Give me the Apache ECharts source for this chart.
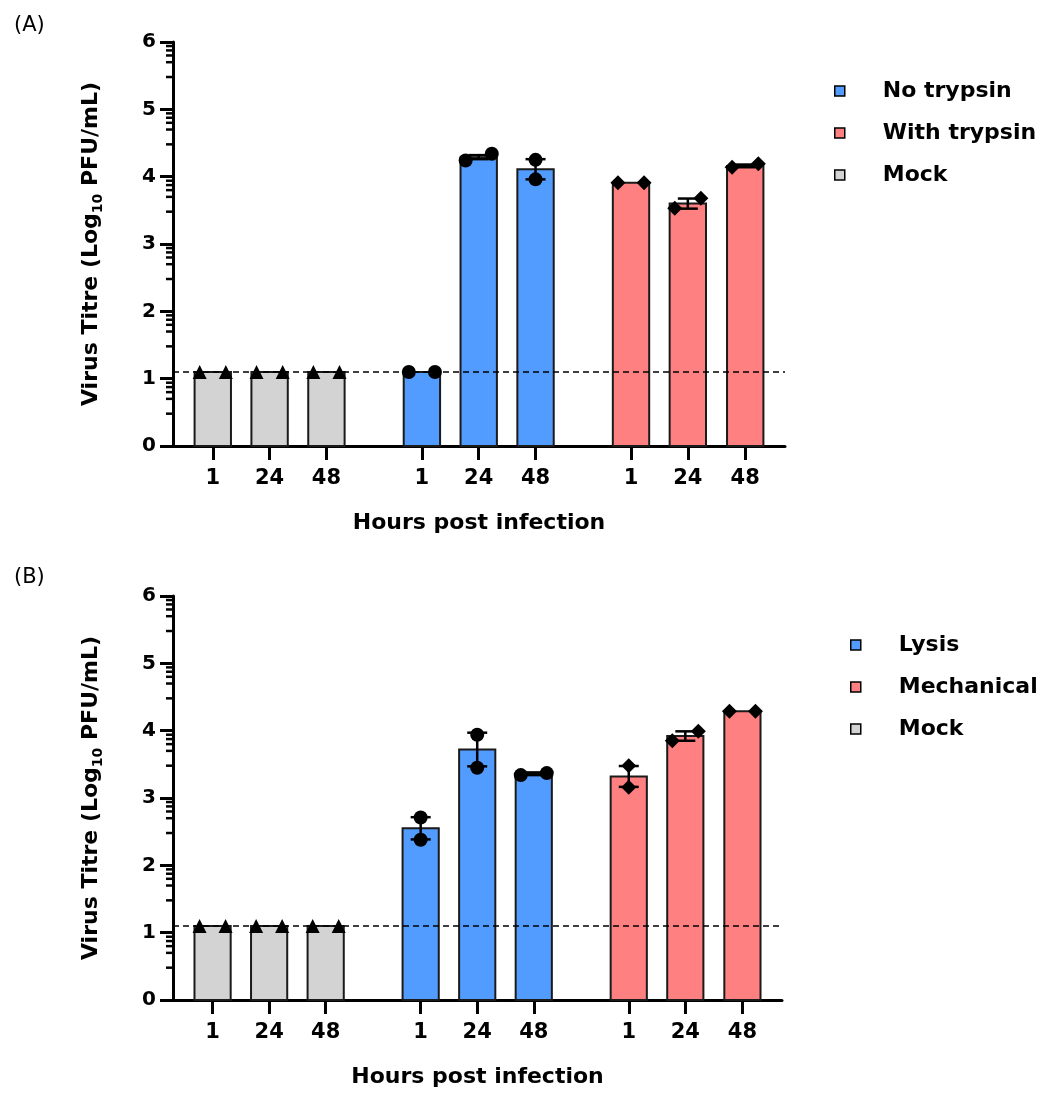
<!DOCTYPE html>
<html>
<head>
<meta charset="utf-8">
<script src="https://cdn.jsdelivr.net/npm/echarts@6/dist/echarts.min.js"></script>
<style>
  html, body { margin: 0; background: #fff; }
  #chart { width: 1051px; height: 1094px; }
</style>
</head>
<body>
<div id="chart"></div>
<script>
// ── Data ──────────────────────────────────────────────────────────────────────
const hourLabels = ['1', '24', '48', '1', '24', '48', '1', '24', '48'];
const LOD = 1.1; // limit of detection (dashed line)

// Panel A
const mockA_mean   = [1.1, 1.1, 1.1];
const mockA_err    = [0, 0, 0];
const mockA_pts    = [[1.1, 1.1], [1.1, 1.1], [1.1, 1.1]];
const noTryp_mean  = [1.1, 4.29, 4.11];
const noTryp_err   = [0, 0.03, 0.15];
const noTryp_pts   = [[1.1, 1.1], [4.24, 4.34], [4.25, 3.96]];
const withTryp_mean = [3.91, 3.6, 4.16];
const withTryp_err  = [0, 0.075, 0.02];
const withTryp_pts  = [[3.91, 3.91], [3.53, 3.68], [4.14, 4.19]];

// Panel B
const mockB_mean   = [1.1, 1.1, 1.1];
const mockB_err    = [0, 0, 0];
const mockB_pts    = [[1.1, 1.1], [1.1, 1.1], [1.1, 1.1]];
const lysis_mean   = [2.55, 3.72, 3.36];
const lysis_err    = [0.165, 0.25, 0.02];
const lysis_pts    = [[2.71, 2.38], [3.94, 3.45], [3.34, 3.37]];
const mech_mean    = [3.32, 3.92, 4.29];
const mech_err     = [0.155, 0.07, 0];
const mech_pts     = [[3.48, 3.16], [3.85, 3.99], [4.29, 4.29]];

// ── Layout / style ────────────────────────────────────────────────────────────
const FONT = 'DejaVu Sans';
const slotPos = [0, 1, 2, 3.68, 4.68, 5.68, 7.36, 8.36, 9.37];
const X_MIN = -0.70, X_MAX = 10.07;
const BAR_W = 0.64;
const JIT = 0.23;
// horizontal spread of the two replicate points, per bar (-1 left, 0 centre, 1 right)
const spreadA = { mock: [[-1, 1], [-1, 1], [-1, 1]], blue: [[-1, 1], [-1, 1], [0, 0]], red: [[-1, 1], [-1, 1], [-1, 1]] };
const spreadB = { mock: [[-1, 1], [-1, 1], [-1, 1]], blue: [[0, 0], [0, 0], [-1, 1]], red: [[0, 0], [-1, 1], [-1, 1]] };
const minorOffsets = [0.48, 0.70, 0.80, 0.875, 0.94];

const C = { blue: '#539CFF', red: '#FF8080', gray: '#D3D3D3' };

// ── Builders ──────────────────────────────────────────────────────────────────
function barSeries(name, gi, color, slots, means, errs) {
  return {
    name, type: 'custom', xAxisIndex: gi, yAxisIndex: gi, z: 2, silent: true,
    itemStyle: { color, borderColor: '#000', borderWidth: 1.5 },
    data: slots.map((s, i) => [slotPos[s], means[i], errs[i]]),
    encode: { x: 0, y: 1 },
    renderItem: (params, api) => {
      const x = api.value(0), v = api.value(1), e = api.value(2);
      const top = api.coord([x, v]);
      const base = api.coord([x, 0]);
      const w = api.size([BAR_W, 0])[0];
      const hi = api.coord([x, v + e]);
      const lo = api.coord([x, v - e]);
      const children = [{
        type: 'rect',
        shape: { x: top[0] - w / 2, y: top[1], width: w, height: base[1] - top[1] },
        style: { fill: color, stroke: '#1a1a1a', lineWidth: 2 },
      }];
      if (e > 0) {
        const cap = 10;
        const ls = { stroke: '#000', lineWidth: 2.5 };
        children.push(
          { type: 'line', shape: { x1: hi[0], y1: hi[1], x2: lo[0], y2: lo[1] }, style: ls },
          { type: 'line', shape: { x1: hi[0] - cap, y1: hi[1], x2: hi[0] + cap, y2: hi[1] }, style: ls },
          { type: 'line', shape: { x1: lo[0] - cap, y1: lo[1], x2: lo[0] + cap, y2: lo[1] }, style: ls },
        );
      }
      return { type: 'group', children };
    },
  };
}

function pointSeries(name, gi, symbol, size, slots, pts, spread, withLod) {
  const data = [];
  slots.forEach((s, i) => {
    pts[i].forEach((v, j) => data.push([slotPos[s] + spread[i][j] * JIT, v]));
  });
  const ser = {
    name, type: 'scatter', xAxisIndex: gi, yAxisIndex: gi, z: 5, silent: true,
    symbol, symbolSize: size,
    itemStyle: { color: '#000', opacity: 1 },
    data,
  };
  if (withLod) {
    ser.markLine = {
      silent: true, symbol: 'none', animation: false,
      label: { show: false },
      lineStyle: { color: '#000', width: 1.6, type: [6, 4] },
      data: [{ yAxis: LOD }],
    };
  }
  return ser;
}

function minorTickSeries(gi) {
  const vals = [];
  for (let n = 0; n < 6; n++) minorOffsets.forEach(o => vals.push([X_MIN, n + o]));
  return {
    name: 'minor' + gi, type: 'custom', xAxisIndex: gi, yAxisIndex: gi, z: 6, silent: true,
    clip: false,
    data: vals,
    renderItem: (params, api) => {
      const p = api.coord([api.value(0), api.value(1)]);
      return { type: 'line', shape: { x1: p[0] - 7, y1: p[1], x2: p[0], y2: p[1] }, style: { stroke: '#000', lineWidth: 2.5 } };
    },
  };
}

const boldText = (size) => ({ fontFamily: FONT, fontWeight: 'bold', fontSize: size, color: '#000' });

function xAxisCfg(gi) {
  return {
    type: 'value', gridIndex: gi, min: X_MIN, max: X_MAX,
    axisLine: { show: true, onZero: false, lineStyle: { color: '#000', width: 3 } },
    axisTick: { show: true, customValues: slotPos, length: 14, lineStyle: { color: '#000', width: 3 } },
    axisLabel: {
      show: true, customValues: slotPos, margin: 22, ...boldText(21),
      formatter: v => {
        const i = slotPos.findIndex(p => Math.abs(p - v) < 1e-6);
        return i >= 0 ? hourLabels[i] : '';
      },
    },
    splitLine: { show: false },
    name: 'Hours post infection', nameLocation: 'middle', nameGap: 66,
    nameTextStyle: boldText(22),
  };
}

function yAxisCfg(gi) {
  return {
    type: 'value', gridIndex: gi, min: 0, max: 6, interval: 1,
    axisLine: { show: true, onZero: false, lineStyle: { color: '#000', width: 3 } },
    axisTick: { show: true, length: 13, lineStyle: { color: '#000', width: 3 } },
    axisLabel: { show: true, margin: 17, ...boldText(20) },
    splitLine: { show: false },
    name: '{b|Virus Titre (Log}{s|10}{b| PFU/mL)}',
    nameLocation: 'middle', nameGap: 68, nameRotate: 90,
    nameTextStyle: {
      rich: {
        b: { ...boldText(22), lineHeight: 28, verticalAlign: 'middle' },
        s: { ...boldText(14), lineHeight: 28, verticalAlign: 'bottom' },
      },
    },
  };
}

function legendCfg(names, left, top) {
  return {
    data: names, orient: 'vertical', left, top,
    icon: 'rect', itemWidth: 10, itemHeight: 10, itemGap: 20,
    selectedMode: false,
    itemStyle: { borderColor: '#000', borderWidth: 1.5 },
    textStyle: { ...boldText(22), padding: [0, 0, 0, 33] },
  };
}

// ── Chart ─────────────────────────────────────────────────────────────────────
const chart = echarts.init(document.getElementById('chart'), null, { renderer: 'canvas' });

chart.setOption({
  backgroundColor: '#fff',
  animation: false,
  title: [
    { text: '(A)', left: 9, top: 10, textStyle: { fontFamily: FONT, fontWeight: 'normal', fontSize: 21, color: '#000' } },
    { text: '(B)', left: 9, top: 562, textStyle: { fontFamily: FONT, fontWeight: 'normal', fontSize: 21, color: '#000' } },
  ],
  grid: [
    { left: 173, top: 42, width: 612, height: 404, outerBoundsMode: 'none' },
    { left: 173, top: 596, width: 609, height: 404, outerBoundsMode: 'none' },
  ],
  xAxis: [xAxisCfg(0), xAxisCfg(1)],
  yAxis: [yAxisCfg(0), yAxisCfg(1)],
  legend: [
    legendCfg(['No trypsin', 'With trypsin', 'Mock'], 829, 75),
    legendCfg(['Lysis', 'Mechanical', 'Mock'], 845, 629),
  ],
  series: [
    // Panel A
    barSeries('Mock', 0, C.gray, [0, 1, 2], mockA_mean, mockA_err),
    barSeries('No trypsin', 0, C.blue, [3, 4, 5], noTryp_mean, noTryp_err),
    barSeries('With trypsin', 0, C.red, [6, 7, 8], withTryp_mean, withTryp_err),
    pointSeries('ptsMockA', 0, 'triangle', 14, [0, 1, 2], mockA_pts, spreadA.mock, true),
    pointSeries('ptsNoTryp', 0, 'circle', 14, [3, 4, 5], noTryp_pts, spreadA.blue, false),
    pointSeries('ptsWithTryp', 0, 'diamond', [15, 15], [6, 7, 8], withTryp_pts, spreadA.red, false),
    minorTickSeries(0),
    // Panel B
    barSeries('Mock', 1, C.gray, [0, 1, 2], mockB_mean, mockB_err),
    barSeries('Lysis', 1, C.blue, [3, 4, 5], lysis_mean, lysis_err),
    barSeries('Mechanical', 1, C.red, [6, 7, 8], mech_mean, mech_err),
    pointSeries('ptsMockB', 1, 'triangle', 14, [0, 1, 2], mockB_pts, spreadB.mock, true),
    pointSeries('ptsLysis', 1, 'circle', 14, [3, 4, 5], lysis_pts, spreadB.blue, false),
    pointSeries('ptsMech', 1, 'diamond', [15, 15], [6, 7, 8], mech_pts, spreadB.red, false),
    minorTickSeries(1),
  ],
});
</script>
</body>
</html>
